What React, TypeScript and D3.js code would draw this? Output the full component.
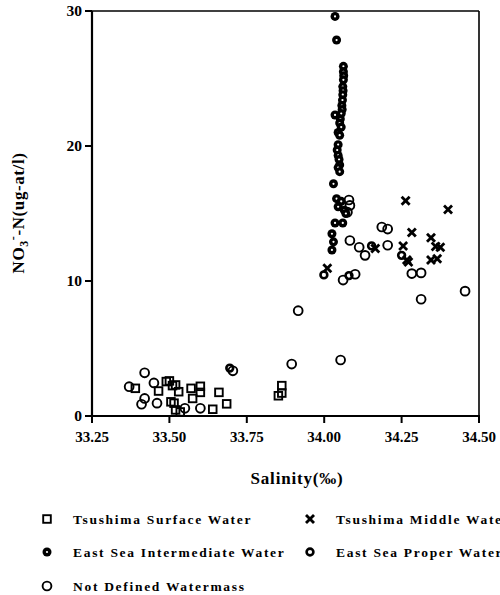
import React from "react";
import * as d3 from "d3";

const xTicks = [33.25, 33.5, 33.75, 34.0, 34.25, 34.5];
const yTicks = [0, 10, 20, 30];

// Tsushima Surface Water [salinity, NO3]
const tswData: [number, number][] = [
  [33.39, 2.05], [33.465, 1.85], [33.49, 2.55], [33.5, 2.6], [33.51, 2.25],
  [33.52, 2.3], [33.53, 1.8], [33.505, 1.05], [33.515, 0.95], [33.52, 0.45],
  [33.535, 0.3], [33.57, 2.05], [33.6, 2.2], [33.6, 1.75], [33.575, 1.3],
  [33.66, 1.75], [33.64, 0.5], [33.685, 0.9], [33.852, 1.5], [33.863, 2.25],
  [33.863, 1.7],
];

// Tsushima Middle Water
const tmwData: [number, number][] = [
  [34.01, 10.95], [34.165, 12.4], [34.263, 15.95], [34.4, 15.3], [34.283, 13.6],
  [34.345, 13.2], [34.255, 12.6], [34.36, 12.55], [34.375, 12.5], [34.267, 11.55],
  [34.272, 11.4], [34.345, 11.55], [34.365, 11.65],
];

// East Sea Intermediate Water
const esiwData: [number, number][] = [
  [34.035, 29.6], [34.04, 27.85], [34.062, 25.9], [34.062, 25.5], [34.063, 25.2],
  [34.062, 24.9], [34.06, 24.4], [34.061, 24.1], [34.06, 23.8], [34.059, 23.4],
  [34.057, 23.0], [34.058, 22.7], [34.035, 22.3], [34.055, 22.4], [34.052, 22.0],
  [34.05, 21.7], [34.055, 21.4], [34.045, 21.0], [34.05, 20.8], [34.045, 20.1],
  [34.042, 19.7], [34.045, 19.3], [34.048, 19.0], [34.05, 18.6], [34.045, 18.4],
  [34.05, 18.1], [34.03, 17.2], [34.04, 16.1], [34.055, 15.9], [34.045, 15.5],
  [34.065, 15.25], [34.07, 15.0], [34.035, 14.3], [34.06, 14.3], [34.025, 13.5],
  [34.03, 12.9], [34.025, 12.3],
];

// East Sea Proper Water
const espwData: [number, number][] = [
  [33.999, 10.45], [34.08, 10.4], [34.25, 11.9], [34.153, 12.6], [33.695, 3.55],
];

// Not Defined Watermass
const ndwData: [number, number][] = [
  [33.37, 2.17], [33.42, 3.2], [33.45, 2.45], [33.42, 1.3], [33.41, 0.87],
  [33.46, 0.95], [33.55, 0.57], [33.6, 0.57], [33.705, 3.35], [33.916, 7.8],
  [33.895, 3.85], [34.053, 4.15], [34.08, 16.0], [34.083, 15.6], [34.075, 15.1],
  [34.083, 13.0], [34.113, 12.5], [34.132, 11.9], [34.186, 14.0], [34.205, 13.85],
  [34.205, 12.65], [34.283, 10.55], [34.313, 10.6], [34.313, 8.65], [34.455, 9.25],
  [34.061, 10.07], [34.1, 10.5],
];

const legendLabels = [
  "Tsushima Surface Water",
  "Tsushima Middle Water",
  "East Sea Intermediate Water",
  "East Sea Proper Water",
  "Not Defined Watermass",
];

const FONT = "'Liberation Serif', 'DejaVu Serif', serif";

type Kind = "square" | "cross" | "filled" | "ring" | "open";

function Marker({ kind, x, y }: { kind: Kind; x: number; y: number }) {
  switch (kind) {
    case "square":
      return <rect x={x - 3.8} y={y - 3.8} width={7.6} height={7.6} fill="none" stroke="#000" strokeWidth={1.9} />;
    case "cross":
      return (
        <g stroke="#000" strokeWidth={2.8} strokeLinecap="butt">
          <line x1={x - 4} y1={y - 4} x2={x + 4} y2={y + 4} />
          <line x1={x - 4} y1={y + 4} x2={x + 4} y2={y - 4} />
        </g>
      );
    case "filled":
      return (
        <g>
          <circle cx={x} cy={y} r={4.5} fill="#000" />
          <circle cx={x} cy={y} r={1.1} fill="#fff" />
        </g>
      );
    case "ring":
      return <circle cx={x} cy={y} r={3.4} fill="none" stroke="#000" strokeWidth={2.6} />;
    default:
      return <circle cx={x} cy={y} r={4.4} fill="none" stroke="#000" strokeWidth={1.9} />;
  }
}

export default function App() {
  const x = d3.scaleLinear().domain([33.25, 34.5]).range([92, 479]);
  const y = d3.scaleLinear().domain([0, 30]).range([416, 11]);

  const series: { kind: Kind; data: [number, number][] }[] = [
    { kind: "square", data: tswData },
    { kind: "open", data: ndwData },
    { kind: "ring", data: espwData },
    { kind: "filled", data: esiwData },
    { kind: "cross", data: tmwData },
  ];

  const legend: { kind: Kind; label: string; lx: number; ly: number }[] = [
    { kind: "square", label: legendLabels[0], lx: 47, ly: 520 },
    { kind: "cross", label: legendLabels[1], lx: 310, ly: 520 },
    { kind: "filled", label: legendLabels[2], lx: 47, ly: 553 },
    { kind: "ring", label: legendLabels[3], lx: 310, ly: 553 },
    { kind: "open", label: legendLabels[4], lx: 47, ly: 587 },
  ];

  return (
    <svg width={500} height={595} style={{ position: "absolute", left: 0, top: 0, background: "#fff" }}>
      <rect x={0} y={0} width={500} height={595} fill="#fff" />
      {/* frame */}
      <line x1={x(33.25) - 7} y1={y(30)} x2={x(34.5)} y2={y(30)} stroke="#000" strokeWidth={1.6} />
      <line x1={x(34.5)} y1={y(30)} x2={x(34.5)} y2={y(0) + 1} stroke="#000" strokeWidth={1.6} />
      <line x1={x(33.25)} y1={y(30)} x2={x(33.25)} y2={y(0) + 1} stroke="#000" strokeWidth={2.2} />
      <line x1={x(33.25) - 1} y1={y(0)} x2={x(34.5) + 1} y2={y(0)} stroke="#000" strokeWidth={2.2} />
      {/* x ticks */}
      {xTicks.map((t) => (
        <g key={"x" + t}>
          <line x1={x(t)} y1={y(0)} x2={x(t)} y2={y(0) + 7} stroke="#000" strokeWidth={2} />
          <text x={x(t)} y={y(0) + 26} textAnchor="middle" fontFamily={FONT} fontWeight="bold" fontSize={15}>
            {d3.format(".2f")(t)}
          </text>
        </g>
      ))}
      {/* y ticks */}
      {yTicks.map((t) => (
        <g key={"y" + t}>
          <line x1={x(33.25) - 7} y1={y(t)} x2={x(33.25)} y2={y(t)} stroke="#000" strokeWidth={2} />
          <text x={x(33.25) - 10} y={y(t) + 5} textAnchor="end" fontFamily={FONT} fontWeight="bold" fontSize={15.5}>
            {t}
          </text>
        </g>
      ))}
      {/* axis labels */}
      <text x={297} y={484} textAnchor="middle" fontFamily={FONT} fontWeight="bold" fontSize={17} letterSpacing={0.8}>
        Salinity(‰)
      </text>
      <text
        transform="translate(24,213) rotate(-90)"
        textAnchor="middle"
        fontFamily={FONT}
        fontWeight="bold"
        fontSize={17}
        letterSpacing={0.6}
      >
        NO<tspan fontSize={12} dy={4}>3</tspan>
        <tspan fontSize={12} dy={-11}>-</tspan>
        <tspan dy={7}>-N(ug-at/l)</tspan>
      </text>
      {/* points */}
      {series.map((s) =>
        s.data.map((d, i) => <Marker key={s.kind + i} kind={s.kind} x={x(d[0])} y={y(d[1])} />)
      )}
      {/* legend */}
      {legend.map((l) => (
        <g key={l.label}>
          <Marker kind={l.kind} x={l.lx} y={l.ly - 1} />
          <text x={l.lx + 26} y={l.ly + 4} fontFamily={FONT} fontWeight="bold" fontSize={13.5} letterSpacing={1.7}>
            {l.label}
          </text>
        </g>
      ))}
    </svg>
  );
}
